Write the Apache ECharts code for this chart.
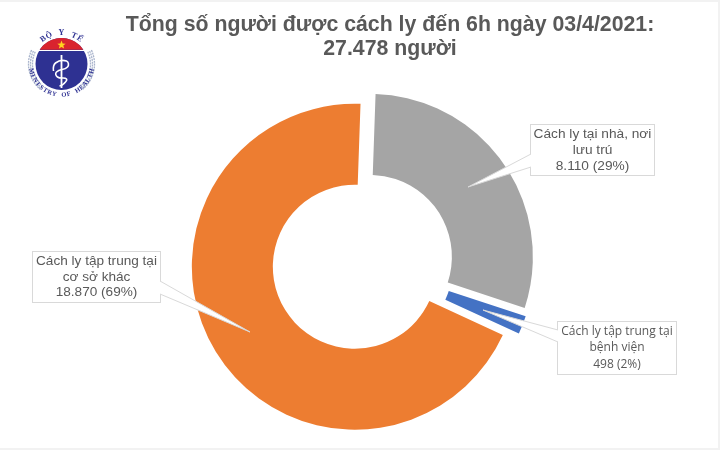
<!DOCTYPE html>
<html>
<head>
<meta charset="utf-8">
<style>html,body{margin:0;padding:0;background:#f2f2f2}#chart{width:720px;height:450px}</style>
<script src="https://cdn.jsdelivr.net/npm/echarts@6/dist/echarts.min.js"></script>
</head>
<body>
<div id="chart"></div>
<script>
// du lieu doc tu hinh
var categories = ['Cách ly tại nhà, nơi\nlưu trú', 'Cách ly tập trung tại\nbệnh viện', 'Cách ly tập trung tại\ncơ sở khác'];
var values = [8110, 498, 18870];
var valueLabels = ['8.110', '498', '18.870'];
var percents = [29, 2, 69];
var colors = ['#a5a5a5', '#4472c4', '#ed7d31'];
var titleText = 'Tổng số người được cách ly đến 6h ngày 03/4/2021:\n27.478 người';

// vi tri o chu thich: tam x, tam y, font, rong
var boxes = [
    {x: 592.5, y: 150, font: 'Liberation Sans', size: 13.7, line: 16, w: 117, h: 44, pad: [5, 3, 1, 3]},
    {x: 617, y: 348, font: 'Open Sans', size: 12, line: 16.8, w: 112, h: 46, pad: [3, 3, 3, 3]},
    {x: 96.5, y: 277, font: 'Liberation Sans', size: 13.6, line: 15.6, w: 121, h: 44, pad: [3, 3, 3, 3]}
];
// mui chi cua chu thich: dinh, hai diem tren canh o
var wedges = [
    [[468, 187], [531, 154], [531, 167]],
    [[483, 310], [558, 330], [558, 342]],
    [[250, 332], [160, 281], [160, 294]]
];

var myChart = echarts.init(document.getElementById('chart'));

function arcPoints(cx, cy, r, a0, a1, n) {
    var pts = [];
    for (var i = 0; i <= n; i++) {
        var a = (a0 + (a1 - a0) * i / n) * Math.PI / 180;
        pts.push([cx + r * Math.cos(a), cy + r * Math.sin(a)]);
    }
    return pts;
}

function arcText(str, cx, cy, r, midDeg, stepDeg, bottom, size, color) {
    var out = [];
    for (var i = 0; i < str.length; i++) {
        var deg = midDeg + (i - (str.length - 1) / 2) * stepDeg * (bottom ? -1 : 1);
        var a = deg * Math.PI / 180;
        out.push({
            type: 'text', x: cx + r * Math.cos(a), y: cy + r * Math.sin(a),
            rotation: -(deg + (bottom ? -90 : 90)) * Math.PI / 180, z: 10,
            style: {text: str[i], fill: color, font: 'bold ' + size + 'px "Liberation Serif"', align: 'center', verticalAlign: 'middle'}
        });
    }
    return out;
}

// logo Bo Y te
function logo() {
    var cx = 61.5, cy = 64, r = 26, els = [];
    [29, 31, 33].forEach(function (ringR) {
        els.push({type: 'polyline', z: 10, shape: {points: arcPoints(cx, cy, ringR, 205, 130, 30)}, style: {stroke: '#a9b4cc', lineWidth: 1.3, fill: null, lineDash: [2, 0.8]}});
        els.push({type: 'polyline', z: 10, shape: {points: arcPoints(cx, cy, ringR, -25, 50, 30)}, style: {stroke: '#a9b4cc', lineWidth: 1.3, fill: null, lineDash: [2, 0.8]}});
    });
    els.push({type: 'circle', z: 10, shape: {cx: cx, cy: cy, r: r}, style: {fill: '#2e3192'}});
    var red = arcPoints(cx, cy, r, 213, 327, 30);
    els.push({type: 'polygon', z: 11, shape: {points: red}, style: {fill: '#d9232e'}});
    els.push({type: 'line', z: 11, shape: {x1: cx - 24, y1: 50.5, x2: cx + 24, y2: 50.5}, style: {stroke: '#fff', lineWidth: 1}});
    var star = [];
    for (var i = 0; i < 10; i++) {
        var rr = i % 2 ? 1.9 : 4.4, a = (-90 + i * 36) * Math.PI / 180;
        star.push([cx + rr * Math.cos(a), 45 + rr * Math.sin(a)]);
    }
    els.push({type: 'polygon', z: 12, shape: {points: star}, style: {fill: '#ffd21f'}});
    // truong va ran
    els.push({type: 'line', z: 12, shape: {x1: cx, y1: 55, x2: cx, y2: 88}, style: {stroke: '#fff', lineWidth: 1.8}});
    els.push({type: 'polyline', z: 12, shape: {smooth: 0.5, points: [[cx - 8, 71], [cx - 6, 63], [cx + 5, 61], [cx + 6, 67], [cx - 5, 72], [cx - 4, 77], [cx + 5, 79], [cx + 2, 84], [cx - 2, 86]]}, style: {stroke: '#fff', lineWidth: 1.6, fill: null}});
    return els.concat(
        arcText('BỘ Y TẾ', cx, cy, 31, -90, 12, false, 8, '#2e3192'),
        arcText('MINISTRY OF HEALTH', cx, cy, 31, 90, 9, true, 6.5, '#2e3192')
    );
}

var graphics = [
    {type: 'rect', z: -1, shape: {x: 0, y: 2, width: 718, height: 446}, style: {fill: '#fff'}}
].concat(logo());

wedges.forEach(function (w) {
    graphics.push({type: 'polygon', z: 10, shape: {points: w}, style: {fill: '#fff'}});
    graphics.push({type: 'polyline', z: 10, shape: {points: [w[1], w[0], w[2]]}, style: {stroke: '#d9d9d9', lineWidth: 1, fill: null}});
});

var ringData = values.map(function (v, i) {
    return {value: v, name: categories[i], selected: true, itemStyle: {color: colors[i]}};
});

// series thu hai trong suot, chi de ve chu thich (trang thai selected ghi de vi tri nhan)
var labelData = values.map(function (v, i) {
    return {
        value: v,
        name: categories[i],
        label: {fontFamily: boxes[i].font, fontSize: boxes[i].size, lineHeight: boxes[i].line, width: boxes[i].w, height: boxes[i].h, padding: boxes[i].pad}
    };
});

var option = {
    animation: false,
    title: {
        text: titleText,
        left: 385,
        top: 8,
        textAlign: 'center',
        textStyle: {fontFamily: 'Liberation Sans', fontSize: 21.3, fontWeight: 'bold', color: '#595959', lineHeight: 24}
    },
    graphic: graphics,
    series: [{
        type: 'pie',
        silent: true,
        center: [362.5, 262],
        radius: [82, 163],
        startAngle: 88,
        selectedMode: 'multiple',
        selectedOffset: 9,
        data: ringData,
        label: {show: false},
        labelLine: {show: false}
    }, {
        type: 'pie',
        silent: true,
        center: [362.5, 262],
        radius: [82, 163],
        startAngle: 88,
        data: labelData,
        itemStyle: {color: 'transparent'},
        label: {
            show: true,
            color: '#595959',
            align: 'center',
            overflow: 'none',
            alignTo: 'none',
            backgroundColor: '#fff',
            borderColor: '#d9d9d9',
            borderWidth: 1,
            formatter: function (p) {
                var i = p.dataIndex;
                return categories[i] + '\n' + valueLabels[i] + ' (' + percents[i] + '%)';
            }
        },
        labelLine: {show: false},
        labelLayout: function (p) {
            var b = boxes[p.dataIndex];
            return {x: b.x, y: b.y, align: 'center', verticalAlign: 'middle', hideOverlap: false};
        }
    }]
};

myChart.setOption(option);
</script>
</body>
</html>
